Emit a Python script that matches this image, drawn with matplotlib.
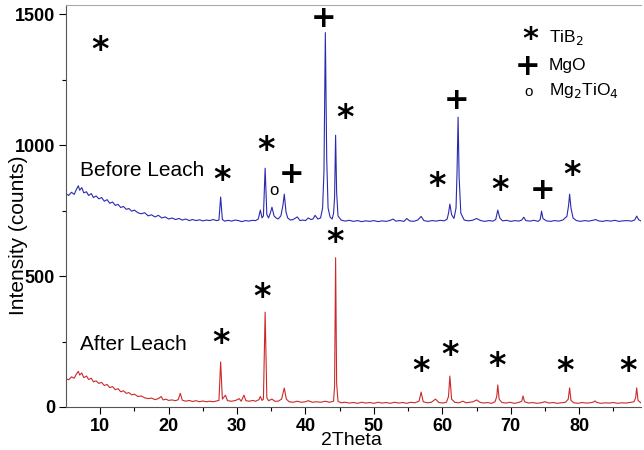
import matplotlib.pyplot as plt

plt.rcParams['font.family'] = ['Liberation Sans', 'DejaVu Sans']

# XRD patterns (2theta in degrees, intensity in counts)
before_theta = [5.0, 5.4, 5.8, 6.2, 6.5, 6.8, 7.0, 7.3, 7.6, 8.0, 8.3, 8.7, 9.0, 9.4, 9.8,
                10.2, 10.6, 11.0, 11.4, 11.8, 12.2, 12.6, 13.0, 13.4, 13.8, 14.2, 14.6,
                15.0, 15.5, 16.0, 16.5, 17.0, 17.5, 18.0, 18.5, 19.0, 19.5, 20.0, 20.5,
                21.0, 21.5, 22.0, 22.5, 23.0, 23.5, 24.0, 24.5, 25.0, 25.5, 26.0, 26.5,
                27.0, 27.35, 27.6, 27.85, 28.2, 28.7, 29.2, 29.7, 30.2, 30.7, 31.2, 31.7,
                32.2, 32.7, 33.1, 33.4, 33.65, 33.85, 34.1, 34.35, 34.6, 34.85, 35.1,
                35.4, 35.7, 36.0, 36.4, 36.7, 36.9, 37.15, 37.4, 37.8, 38.2, 38.8, 39.2,
                39.6, 40.0, 40.4, 40.8, 41.1, 41.4, 41.8, 42.2, 42.5, 42.7, 42.9, 43.1,
                43.3, 43.6, 43.9, 44.1, 44.25, 44.4, 44.55, 44.75, 45.2, 45.8, 46.4, 47.0,
                47.6, 48.2, 48.8, 49.4, 50.0, 50.6, 51.2, 51.8, 52.4, 52.8, 53.2, 53.8,
                54.4, 54.8, 55.2, 55.8, 56.4, 56.9, 57.3, 57.9, 58.5, 59.1, 59.7, 60.3,
                60.7, 60.9, 61.1, 61.35, 61.7, 62.0, 62.15, 62.3, 62.45, 62.7, 63.2, 63.8,
                64.4, 65.0, 65.6, 66.2, 66.8, 67.4, 67.8, 68.1, 68.4, 68.8, 69.4, 70.0,
                70.6, 71.2, 71.6, 71.9, 72.2, 72.8, 73.4, 74.0, 74.3, 74.5, 74.7, 75.2,
                75.8, 76.4, 77.0, 77.6, 78.2, 78.45, 78.6, 78.8, 79.1, 79.6, 80.2, 80.8,
                81.4, 82.0, 82.4, 82.8, 83.4, 84.0, 84.6, 85.2, 85.8, 86.4, 87.0, 87.6,
                88.1, 88.4, 88.7, 89.0]
before_counts = [815, 808, 820, 812, 830, 845, 828, 838, 818, 822, 808, 815, 800, 806, 795,
                 800, 786, 792, 778, 783, 770, 774, 762, 766, 755, 758, 748,
                 752, 742, 738, 742, 730, 734, 726, 732, 722, 726, 718, 722,
                 716, 720, 714, 718, 712, 716, 712, 715, 711, 714, 712, 716,
                 712, 714, 802, 716, 710, 713, 710, 714, 712, 708, 712, 710,
                 713, 712, 718, 752, 722, 730, 912, 735, 722, 740, 763,
                 730, 722, 718, 730, 770, 813, 745, 722, 714, 716, 726, 712,
                 714, 712, 722, 716, 718, 732, 718, 722, 760, 900, 1430, 950,
                 760, 725, 718, 740, 800, 1038, 820, 730, 714, 710, 713, 709,
                 712, 708, 711, 709, 712, 708, 711, 709, 713, 718, 710, 712,
                 709, 720, 711, 709, 714, 728, 712, 709, 712, 710, 713, 711,
                 718, 740, 775, 735, 720, 760, 900, 1107, 880, 740, 714, 711,
                 713, 720, 712, 709, 712, 710, 716, 752, 722, 711, 713, 709,
                 712, 710, 714, 725, 712, 710, 713, 709, 716, 748, 720, 711,
                 709, 712, 710, 714, 728, 770, 813, 760, 722, 712, 709, 712,
                 710, 713, 716, 711, 709, 712, 710, 713, 709, 711, 712, 710,
                 714, 729, 715, 711]

after_theta = [5.0, 5.4, 5.8, 6.2, 6.5, 6.8, 7.0, 7.3, 7.6, 8.0, 8.3, 8.7, 9.0, 9.4, 9.8,
               10.2, 10.6, 11.0, 11.4, 11.8, 12.2, 12.6, 13.0, 13.4, 13.8, 14.2, 14.6,
               15.0, 15.5, 16.0, 16.5, 17.0, 17.5, 18.0, 18.5, 18.9, 19.2, 19.6, 20.0,
               20.5, 21.0, 21.4, 21.7, 22.0, 22.5, 23.0, 23.5, 24.0, 24.5, 25.0, 25.5,
               26.0, 26.5, 27.0, 27.35, 27.6, 27.85, 28.3, 28.6, 29.2, 29.8, 30.3, 30.6,
               31.0, 31.3, 31.8, 32.3, 32.7, 33.2, 33.4, 33.65, 33.85, 34.1, 34.35, 34.6,
               35.1, 35.5, 36.0, 36.5, 36.9, 37.2, 37.6, 38.2, 38.8, 39.4, 40.0, 40.4,
               41.0, 41.6, 42.2, 42.9, 43.5, 44.1, 44.25, 44.4, 44.55, 44.75, 45.2, 45.8,
               46.4, 47.0, 47.6, 48.2, 48.8, 49.4, 50.0, 50.6, 51.2, 51.8, 52.4, 53.0,
               53.6, 54.2, 54.8, 55.4, 56.0, 56.6, 56.9, 57.2, 57.8, 58.4, 59.0, 59.5,
               60.1, 60.6, 60.9, 61.1, 61.35, 61.8, 62.4, 63.0, 63.5, 64.0, 64.5, 65.0,
               65.5, 66.0, 66.6, 67.2, 67.7, 67.95, 68.1, 68.3, 68.7, 69.3, 69.9, 70.5,
               71.1, 71.6, 71.8, 72.0, 72.6, 73.2, 73.8, 74.4, 75.0, 75.6, 76.2, 76.8,
               77.4, 78.0, 78.4, 78.6, 78.8, 79.2, 79.8, 80.4, 81.0, 81.6, 82.0, 82.3,
               82.6, 83.2, 83.8, 84.4, 85.0, 85.6, 86.2, 86.8, 87.4, 88.0, 88.25, 88.4,
               88.6, 89.0]
after_counts = [108, 104, 115, 110, 125, 136, 122, 130, 112, 118, 105, 110, 96, 100, 90,
                94, 82, 86, 74, 78, 66, 70, 58, 62, 52, 55, 46,
                49, 40, 42, 35, 32, 34, 28, 32, 40, 27, 30, 25,
                27, 24, 28, 52, 26, 22, 25, 21, 24, 20, 23, 20,
                22, 20, 23, 25, 172, 30, 45, 24, 22, 25, 32, 22,
                45, 24, 22, 25, 22, 28, 40, 25, 30, 362, 35, 24,
                30, 22, 22, 30, 72, 30, 20, 18, 22, 18, 20, 24,
                18, 20, 18, 22, 18, 22, 80, 570, 90, 22, 16, 18,
                15, 17, 14, 18, 15, 17, 14, 18, 15, 17, 14, 18,
                15, 17, 14, 18, 16, 22, 57, 20, 16, 18, 30, 17,
                15, 18, 40, 118, 30, 18, 16, 22, 16, 18, 20, 27,
                18, 15, 17, 14, 20, 40, 84, 30, 17, 15, 18, 14,
                17, 22, 42, 20, 15, 17, 14, 16, 20, 15, 17, 14,
                16, 18, 30, 73, 25, 16, 14, 17, 15, 16, 18, 23,
                17, 14, 16, 15, 17, 14, 16, 15, 17, 20, 35, 73,
                25, 16]

# phase markers (2theta, counts)
tib2_before = [(10.0, 1363), (27.8, 866), (34.2, 981), (45.8, 1103), (59.3, 844),
               (68.4, 828), (78.9, 885)]
mgo_before = [(38.0, 889), (42.7, 1485), (62.1, 1172), (74.7, 828)]
mg2tio4_before = [(35.4, 828)]
tib2_after = [(27.7, 244), (33.6, 420), (44.3, 630), (56.9, 134), (61.2, 198),
              (68.0, 156), (78.0, 137), (87.2, 134)]

fig = plt.figure(figsize=(6.44, 4.5), dpi=100)
ax = fig.add_axes([0.1025, 0.0956, 0.8925, 0.893])

ax.plot(before_theta, before_counts, color='#2a2ab0', lw=0.8)
ax.plot(after_theta, after_counts, color='#cc2a2a', lw=0.8)

for x, y in tib2_before + tib2_after:
    ax.text(x, y, '*', fontsize=24, fontweight='bold', ha='center', va='center',
            family='DejaVu Sans')
for x, y in mgo_before:
    ax.text(x, y, '+', fontsize=22, fontweight='bold', ha='center', va='center',
            family='DejaVu Sans')
for x, y in mg2tio4_before:
    ax.text(x, y, 'o', fontsize=12, ha='center', va='center')

# legend-like key in the top right
ax.text(72.8, 1405, '*', fontsize=22, fontweight='bold', ha='center', va='center',
        family='DejaVu Sans')
ax.text(75.6, 1412, 'TiB$_2$', fontsize=12.5, ha='left', va='center')
ax.text(72.5, 1300, '+', fontsize=22, fontweight='bold', ha='center', va='center',
        family='DejaVu Sans')
ax.text(75.6, 1305, 'MgO', fontsize=12.5, ha='left', va='center')
ax.text(72.6, 1205, 'o', fontsize=11, ha='center', va='center')
ax.text(75.6, 1210, 'Mg$_2$TiO$_4$', fontsize=12.5, ha='left', va='center')

ax.text(7.1, 905, 'Before Leach', fontsize=15, ha='left', va='center')
ax.text(7.1, 240, 'After Leach', fontsize=15, ha='left', va='center')

ax.set_xlim(5, 89)
ax.set_ylim(0, 1535)
ax.set_xticks([10, 20, 30, 40, 50, 60, 70, 80])
ax.set_xticks([15, 25, 35, 45, 55, 65, 75, 85], minor=True)
ax.set_yticks([0, 500, 1000, 1500])
ax.set_yticks([250, 750, 1250], minor=True)
ax.tick_params(labelsize=13, length=5, width=0.8)
ax.tick_params(axis='x', pad=3)
ax.tick_params(axis='y', pad=3)
ax.tick_params(which='minor', length=3, width=0.8)
for lab in ax.get_xticklabels() + ax.get_yticklabels():
    lab.set_fontweight('bold')

ax.spines['right'].set_visible(False)
ax.spines['top'].set_color('#aaaaaa')
ax.spines['left'].set_color('#555555')
ax.spines['bottom'].set_color('#555555')

fig.text(0.028, 0.478, 'Intensity (counts)', fontsize=15, rotation=90,
         ha='center', va='center')
fig.text(0.545, 0.021, '2Theta', fontsize=14, ha='center', va='center')

plt.savefig('out.png', dpi=100)
